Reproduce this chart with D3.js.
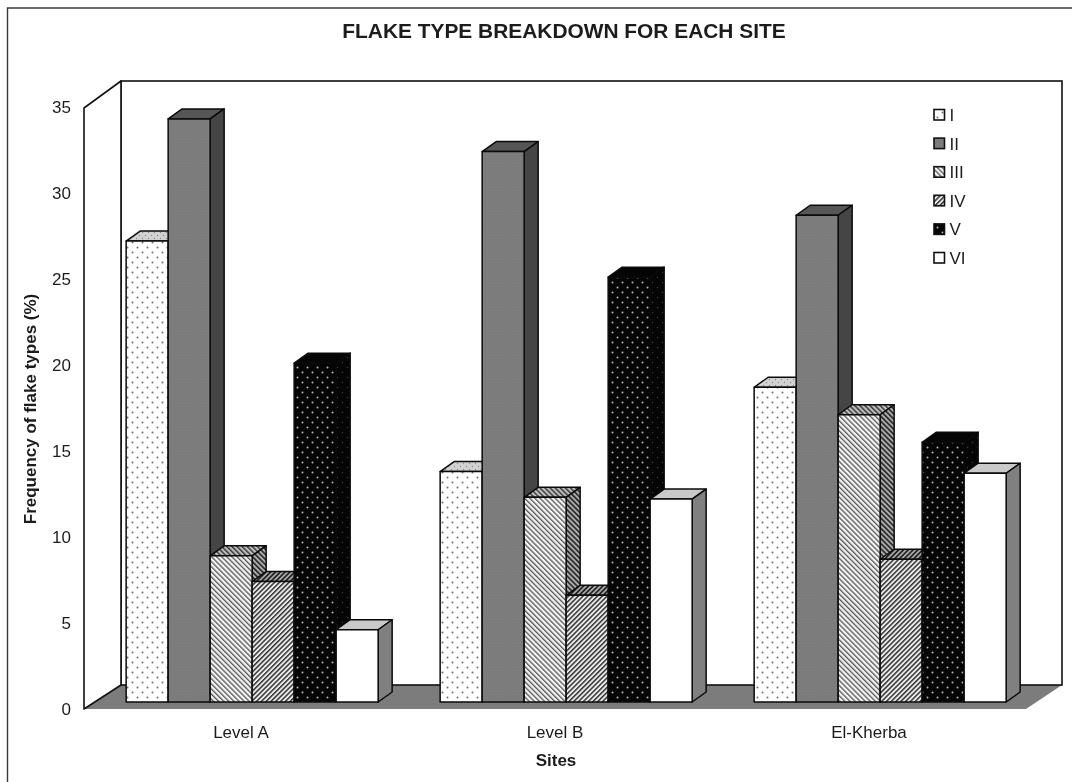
<!DOCTYPE html>
<html>
<head>
<meta charset="utf-8">
<script src="https://cdn.jsdelivr.net/npm/d3@7"></script>
<style>
html,body{margin:0;padding:0;background:#fff;}
svg{display:block;filter:blur(0.5px);}
text{font-family:"Liberation Sans",Arial,sans-serif;fill:#1c1c1c;}
</style>
</head>
<body>
<svg id="chart" width="1072" height="782"></svg>
<script>
const sites = ["Level A", "Level B", "El-Kherba"];
const flakeTypes = ["I", "II", "III", "IV", "V", "VI"];
const levelA = [26.8, 33.9, 8.5, 7.0, 19.7, 4.2];
const levelB = [13.4, 32.0, 11.9, 6.2, 24.7, 11.8];
const elKherba = [18.3, 28.3, 16.7, 8.3, 15.1, 13.3];
const yTicks = [0, 5, 10, 15, 20, 25, 30, 35];
const titleText = "FLAKE TYPE BREAKDOWN FOR EACH SITE";
const xTitle = "Sites";
const yTitle = "Frequency of flake types (%)";

const seriesBySite = [levelA, levelB, elKherba];
const W = 1072, H = 782;
const dx = 14, dy = 10;      // bar depth projection
const wallDx = 37, wallDy = 24; // chart box depth projection
const left = 84, floorY = 709, topY = 107, frontRight = 1026;
const barInset = 7;

const svg = d3.select("#chart");
const y = d3.scaleLinear().domain([0, 35]).range([floorY, topY]);
const x0 = d3.scaleBand().domain(sites).range([left, frontRight]);
const xBars = d3.scaleBand().domain(sites).range([left + 11, frontRight + 11]);
const xInner = d3.scaleBand().domain(flakeTypes).range([0, 252]);
const barOffset = (314.3 - 252) / 2;

/* patterns */
const defs = svg.append("defs");
function dots(id, bg, fg, r, size) {
  const p = defs.append("pattern").attr("id", id).attr("patternUnits", "userSpaceOnUse")
    .attr("width", size).attr("height", size);
  p.append("rect").attr("width", size).attr("height", size).attr("fill", bg);
  p.append("circle").attr("cx", size / 4).attr("cy", size / 4).attr("r", r).attr("fill", fg);
  p.append("circle").attr("cx", size * 3 / 4).attr("cy", size * 3 / 4).attr("r", r).attr("fill", fg);
}
function hatch(id, bg, fg, sw, size, angle) {
  const p = defs.append("pattern").attr("id", id).attr("patternUnits", "userSpaceOnUse")
    .attr("width", size).attr("height", size).attr("patternTransform", `rotate(${angle})`);
  p.append("rect").attr("width", size).attr("height", size).attr("fill", bg);
  p.append("rect").attr("width", sw).attr("height", size).attr("fill", fg);
}
dots("pI", "#ffffff", "#6e6e6e", 1, 10);
dots("pItop", "#d2d2d2", "#8a8a8a", 0.7, 6);
dots("pII", "#7f7f7f", "#6f6f6f", 0.6, 3);
hatch("pIII", "#f4f4f4", "#555555", 1.3, 3.6, -45);
hatch("pIIItop", "#c0c0c0", "#3a3a3a", 1.5, 3.6, -45);
hatch("pIIIside", "#adadad", "#2a2a2a", 1.7, 3.6, -45);
hatch("pIV", "#ececec", "#333333", 1.5, 3.4, 45);
hatch("pIVtop", "#a8a8a8", "#222222", 1.7, 3.4, 45);
hatch("pIVside", "#909090", "#1a1a1a", 1.8, 3.4, 45);
dots("pV", "#050505", "#b8b8b8", 1, 10);
dots("pVside", "#050505", "#3c3c3c", 0.7, 10);

const styles = {
  I:   {front: "url(#pI)",   top: "url(#pItop)",   side: "#9a9a9a"},
  II:  {front: "url(#pII)",  top: "#565656",       side: "#454545"},
  III: {front: "url(#pIII)", top: "url(#pIIItop)", side: "url(#pIIIside)"},
  IV:  {front: "url(#pIV)",  top: "url(#pIVtop)",  side: "url(#pIVside)"},
  V:   {front: "url(#pV)",   top: "#050505",       side: "url(#pVside)"},
  VI:  {front: "#ffffff",    top: "#c9c9c9",       side: "#808080"}
};

/* outer frame */
svg.append("path").attr("d", `M7.5,${H} V8 H${W}`).attr("fill", "none").attr("stroke", "#3a3a3a").attr("stroke-width", 1.4);

/* chart box */
const line = d3.line();
const backRight = frontRight + wallDx - 1;
svg.append("path")
  .attr("d", line([[left + wallDx, floorY - wallDy], [backRight, floorY - wallDy], [frontRight, floorY], [left, floorY]]) + "Z")
  .attr("fill", "#7c7c7c");
svg.append("rect").attr("x", left + wallDx).attr("y", topY - 26)
  .attr("width", backRight - left - wallDx).attr("height", floorY - wallDy - topY + 26)
  .attr("fill", "#fff").attr("stroke", "#111").attr("stroke-width", 1.6);
svg.append("path")
  .attr("d", line([[left, floorY], [left, topY + 1], [left + wallDx, topY - 26], [left + wallDx, floorY - wallDy]]) + "Z")
  .attr("fill", "#fff").attr("stroke", "#111").attr("stroke-width", 1.6).attr("stroke-linejoin", "round");

/* bars */
sites.forEach((site, si) => {
  const g = svg.append("g").attr("class", "site");
  const originX = xBars(site) + barOffset;
  flakeTypes.forEach((type, ti) => {
    const v = seriesBySite[si][ti];
    const bx = originX + xInner(type);
    const bw = xInner.bandwidth();
    const base = y(0) - barInset;
    const top = y(v) - barInset;
    const st = styles[type];
    const bar = g.append("g").attr("stroke", "#0a0a0a").attr("stroke-width", 1.5).attr("stroke-linejoin", "round");
    bar.append("path").attr("fill", st.top)
      .attr("d", line([[bx, top], [bx + dx, top - dy], [bx + bw + dx, top - dy], [bx + bw, top]]) + "Z");
    bar.append("path").attr("fill", st.side)
      .attr("d", line([[bx + bw, top], [bx + bw + dx, top - dy], [bx + bw + dx, base - dy], [bx + bw, base]]) + "Z");
    bar.append("rect").attr("x", bx).attr("y", top).attr("width", bw).attr("height", base - top).attr("fill", st.front);
  });
});

/* axes */
const yAxis = d3.axisLeft(y).tickValues(yTicks).tickSize(0).tickPadding(13);
const gy = svg.append("g").attr("transform", `translate(${left},0)`).call(yAxis);
gy.select(".domain").remove();
gy.selectAll("text").attr("font-size", 17).style("font-family", '"Liberation Sans",Arial,sans-serif').attr("fill", "#1c1c1c");

const xAxis = d3.axisBottom(x0).tickSize(0).tickPadding(17);
const gx = svg.append("g").attr("transform", `translate(0,${floorY})`).call(xAxis);
gx.select(".domain").remove();
gx.selectAll("text").attr("font-size", 17).style("font-family", '"Liberation Sans",Arial,sans-serif').attr("fill", "#1c1c1c");

/* titles */
svg.append("text").attr("x", 564).attr("y", 37.5).attr("text-anchor", "middle")
  .attr("font-size", 20.9).attr("font-weight", 700).text(titleText);
svg.append("text").attr("x", 556).attr("y", 766).attr("text-anchor", "middle")
  .attr("font-size", 17).attr("font-weight", 700).text(xTitle);
svg.append("text").attr("transform", "translate(36,409) rotate(-90)").attr("text-anchor", "middle")
  .attr("font-size", 17).attr("font-weight", 700).text(yTitle);

/* legend */
const legendY = d3.scalePoint().domain(flakeTypes).range([114.5, 257.5]);
const legend = svg.append("g").attr("class", "legend");
flakeTypes.forEach(type => {
  legend.append("rect").attr("x", 934).attr("y", legendY(type) - 5).attr("width", 10.5).attr("height", 10.5)
    .attr("fill", styles[type].front).attr("stroke", "#111").attr("stroke-width", 1.6);
  legend.append("text").attr("x", 949.5).attr("y", legendY(type) + 6.5).attr("font-size", 17).text(type);
});
</script>
</body>
</html>
